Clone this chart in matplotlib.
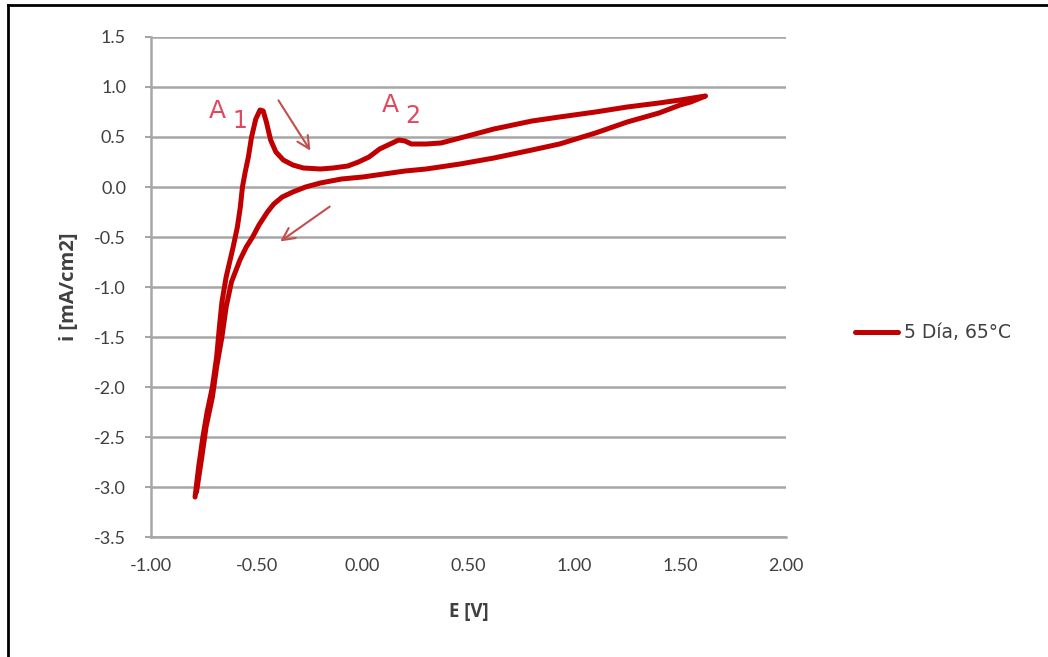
import numpy as np
import matplotlib
matplotlib.use('Agg')
import matplotlib.pyplot as plt
from matplotlib.lines import Line2D

# Cyclic voltammogram, 5 days at 65 °C
# forward (anodic) scan, from the cathodic limit up to the vertex
E_fwd = [-0.792, -0.775, -0.755, -0.735, -0.722, -0.71, -0.69, -0.677, -0.665, -0.645,
         -0.612, -0.592, -0.578, -0.568, -0.555, -0.54, -0.525, -0.505, -0.485, -0.47,
         -0.455, -0.435, -0.41, -0.375, -0.33, -0.28, -0.2, -0.14, -0.07, -0.02,
         0.03, 0.08, 0.13, 0.17, 0.2, 0.23, 0.3, 0.37, 0.46, 0.62,
         0.8, 0.93, 1.1, 1.25, 1.4, 1.5, 1.62]
i_fwd = [-3.10, -2.80, -2.50, -2.25, -2.12, -2.00, -1.70, -1.40, -1.15, -0.90,
         -0.60, -0.40, -0.20, 0.00, 0.15, 0.30, 0.50, 0.68, 0.77, 0.76,
         0.65, 0.47, 0.35, 0.27, 0.22, 0.19, 0.18, 0.19, 0.21, 0.25,
         0.30, 0.38, 0.43, 0.47, 0.46, 0.43, 0.43, 0.44, 0.49, 0.58,
         0.66, 0.70, 0.75, 0.80, 0.84, 0.87, 0.91]
# reverse (cathodic) scan, from the vertex back down
E_rev = [1.62, 1.55, 1.5, 1.4, 1.25, 1.1, 0.93, 0.8, 0.62, 0.46,
         0.3, 0.2, 0.1, 0.0, -0.1, -0.2, -0.27, -0.33, -0.38, -0.42,
         -0.45, -0.49, -0.52, -0.55, -0.58, -0.62, -0.645, -0.665, -0.69, -0.71,
         -0.74, -0.76, -0.785]
i_rev = [0.91, 0.85, 0.82, 0.74, 0.65, 0.54, 0.43, 0.37, 0.29, 0.23,
         0.18, 0.16, 0.13, 0.10, 0.08, 0.04, 0.00, -0.05, -0.10, -0.17,
         -0.25, -0.38, -0.50, -0.60, -0.73, -0.95, -1.20, -1.50, -1.80, -2.10,
         -2.40, -2.70, -3.05]

E = np.array(E_fwd + E_rev[1:])
i = np.array(i_fwd + i_rev[1:])

x_ticks = [-1.0, -0.5, 0.0, 0.5, 1.0, 1.5, 2.0]
y_ticks = [1.5, 1.0, 0.5, 0.0, -0.5, -1.0, -1.5, -2.0, -2.5, -3.0, -3.5]

curve_color = '#c00000'
note_color = '#e0485e'
arrow_color = '#c0504d'
grid_color = '#a6a6a6'
text_color = '#404040'

fig = plt.figure(figsize=(10.48, 6.57), dpi=100)
ax = fig.add_axes([0.1441, 0.1826, 0.6059, 0.7611])

ax.plot(E, i, color=curve_color, lw=3.6, solid_capstyle='round',
        solid_joinstyle='round', label='5 Día, 65°C')

ax.set_xlim(-1.0, 2.0)
ax.set_ylim(-3.5, 1.5)
ax.set_xticks(x_ticks)
ax.set_xticklabels([f'{v:.2f}' for v in x_ticks])
ax.set_yticks(y_ticks)
ax.set_yticklabels([f'{v:.1f}' for v in y_ticks])
ax.grid(axis='y', color=grid_color, lw=1.8)
ax.set_axisbelow(True)
for side in ['top', 'right']:
    ax.spines[side].set_visible(False)
for side in ['left', 'bottom']:
    ax.spines[side].set_color(grid_color)
    ax.spines[side].set_linewidth(1.8)

tick_font = ['Lato', 'DejaVu Sans']
ax.tick_params(axis='y', length=4, color=grid_color, width=1.5, pad=14,
               labelsize=13, labelcolor=text_color)
ax.tick_params(axis='x', length=0, pad=15, labelsize=13, labelcolor=text_color)
for lab in ax.get_xticklabels() + ax.get_yticklabels():
    lab.set_family(tick_font)

label_font = ['Open Sans', 'DejaVu Sans']
ax.set_xlabel('E [V]', family=label_font, fontweight='bold', fontsize=13.5,
              color=text_color, labelpad=20)
ax.set_ylabel('i [mA/cm2]', family=label_font, fontweight='bold', fontsize=14.5,
              color=text_color, labelpad=11)

# peak labels
ax.text(-0.725, 0.69, 'A', color=note_color, fontsize=18, family='DejaVu Sans')
ax.text(-0.615, 0.585, '1', color=note_color, fontsize=17, family='DejaVu Sans')
ax.text(0.09, 0.75, 'A', color=note_color, fontsize=18, family='DejaVu Sans')
ax.text(0.2, 0.64, '2', color=note_color, fontsize=17, family='DejaVu Sans')

# scan direction arrows
ax.annotate('', xy=(-0.24, 0.34), xytext=(-0.405, 0.89),
            arrowprops=dict(arrowstyle='->', color=arrow_color, lw=1.5,
                            mutation_scale=22))
ax.annotate('', xy=(-0.40, -0.56), xytext=(-0.145, -0.18),
            arrowprops=dict(arrowstyle='->', color=arrow_color, lw=1.5,
                            mutation_scale=22))

handle = Line2D([], [], color=curve_color, lw=3.6, solid_capstyle='round')
fig.legend([handle], ['5 Día, 65°C'], loc='center left',
           bbox_to_anchor=(0.80, 1 - 333 / 657), frameon=False,
           handlelength=2.3, handletextpad=0.3,
           prop={'family': 'DejaVu Sans', 'size': 13.5}, labelcolor=text_color)

# frame around the figure (top and left edges)
fig.add_artist(Line2D([8 / 1048, 8 / 1048], [0, 1 - 5 / 657], color='black', lw=2,
                      transform=fig.transFigure))
fig.add_artist(Line2D([8 / 1048, 1], [1 - 5 / 657, 1 - 5 / 657], color='black', lw=2,
                      transform=fig.transFigure))

fig.savefig('out.png', dpi=100)
